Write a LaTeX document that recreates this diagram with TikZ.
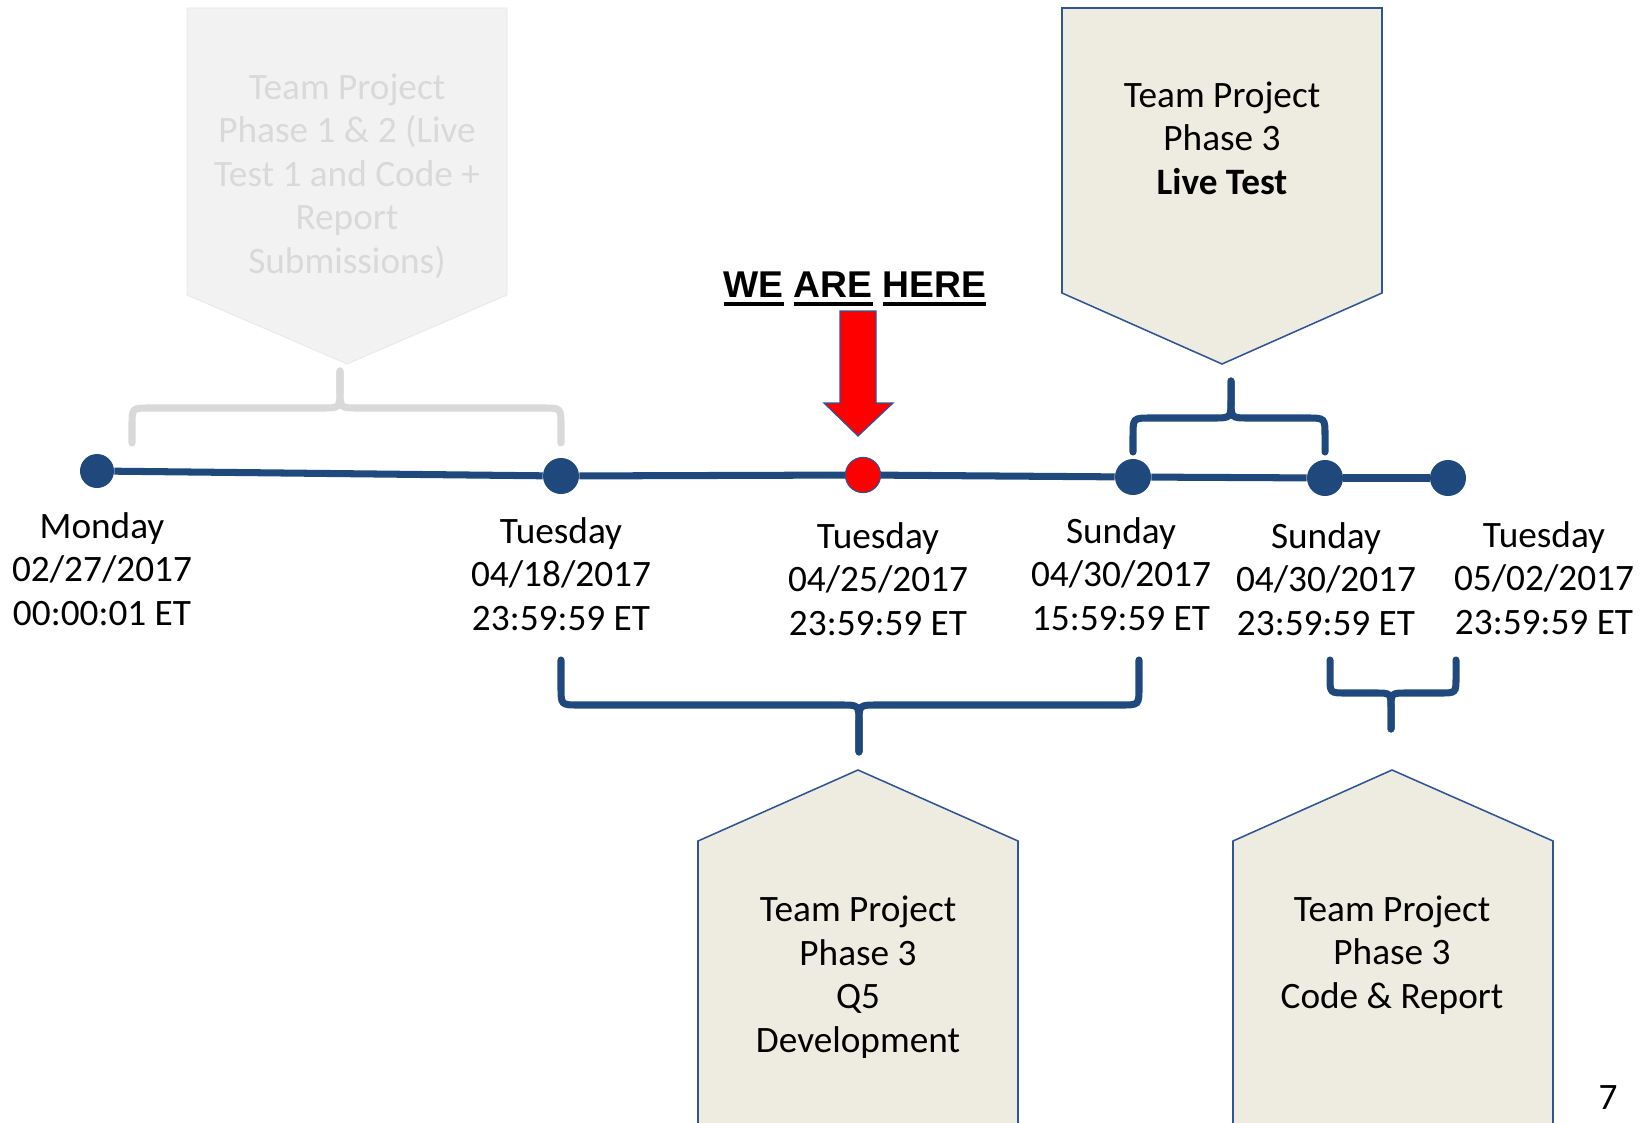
\documentclass[tikz,border=0pt]{standalone}
\usepackage{fontspec}
\setmainfont{Carlito}
\newfontfamily\arialfont{Liberation Sans}
\definecolor{tlblue}{HTML}{1F497D}
\definecolor{edgeblue}{HTML}{2F5597}
\definecolor{tanfill}{HTML}{EEECE1}
\definecolor{oldfill}{HTML}{F2F2F2}
\definecolor{oldgray}{HTML}{D9D9D9}
\newcommand{\heavyul}[1]{\setbox0=\hbox{#1}\rlap{\rule[-6.5pt]{\wd0}{2.6pt}}\box0\relax}
\tikzset{
      tline/.style={
          draw=tlblue,
          line width=5pt
      },
      tdot/.style={
          circle,
          fill=tlblue,
          inner sep=0pt,
          minimum size=0.9cm
      },
      nowdot/.style={
          circle,
          fill=red,
          draw=edgeblue,
          thick,
          inner sep=0pt,
          minimum size=0.88cm
      },
      datelbl/.style={
          align=center,
          inner sep=0pt,
          font=\fontsize{26.5}{31}\selectfont
      },
      phasebox/.style={
          fill=tanfill,
          draw=edgeblue,
          line width=1.1pt,
          line join=miter
      },
      oldbox/.style={
          fill=oldfill,
          draw=oldfill!96!black,
          line width=0.6pt
      },
      bracel/.style={
          draw=tlblue,
          line width=5pt,
          line cap=round
      },
      oldbrace/.style={
          draw=oldgray,
          line width=5pt,
          line cap=round
      }
  }

\begin{document}
\begin{tikzpicture}[x=0.025cm, y=-0.025cm]
    \useasboundingbox (0,0) rectangle (1650,1123);

    %% greyed out phase 1 & 2
    \draw[oldbox] (187,8) -- (507,8) -- (507,295) -- (347,364) -- (187,295) -- cycle;
    \node [datelbl, text=oldgray] (p12) at (347,176) {Team Project\\Phase 1 \& 2 (Live\\Test 1 and Code +\\Report\\Submissions)};
    \draw[oldbrace] (132,443) -- (132,426) .. controls (132,408) .. (150,408) -- (322,408) .. controls (340,408) .. (340,390) -- (340,371);
    \draw[oldbrace] (561,443) -- (561,426) .. controls (561,408) .. (543,408) -- (358,408) .. controls (340,408) .. (340,390) -- (340,371);

    %% live test
    \draw[phasebox] (1062,8) -- (1382,8) -- (1382,293) -- (1222,364) -- (1062,293) -- cycle;
    \node [datelbl] (p3live) at (1222,138) {Team Project\\Phase 3\\\textbf{Live Test}};
    \draw[bracel] (1133,452) -- (1133,436) .. controls (1133,418) .. (1151,418) -- (1213,418) .. controls (1231,418) .. (1231,400) -- (1231,381);
    \draw[bracel] (1325,452) -- (1325,436) .. controls (1325,418) .. (1307,418) -- (1249,418) .. controls (1231,418) .. (1231,400) -- (1231,381);

    %% we are here
    \node [inner sep=0pt, anchor=base, font=\arialfont\bfseries\fontsize{26.5}{31}\selectfont] (here) at (855,297) {\heavyul{WE} \heavyul{ARE} \heavyul{HERE}};
    \draw[fill=red, draw=edgeblue, line width=0.9pt] (840,311) -- (876,311) -- (876,403) -- (893,403) -- (858,436) -- (824,403) -- (840,403) -- cycle;

    %% timeline
    \node [tdot, minimum size=0.85cm] (d1) at (97,471) {};
    \node [tdot] (d2) at (561,476) {};
    \node [nowdot] (d3) at (863,475) {};
    \node [tdot] (d4) at (1133,477) {};
    \node [tdot] (d5) at (1325,478) {};
    \node [tdot] (d6) at (1448,478) {};

    \draw[tline] (d1) -- (d2);
    \draw[tline] (d2) -- (d3);
    \draw[tline] (d3) -- (d4);
    \draw[tline] (d4) -- (d5);
    \draw[tline] (d5) -- (d6);

    \node [datelbl] (t1) at (102,569) {Monday\\02/27/2017\\00:00:01 ET};
    \node [datelbl] (t2) at (561,574) {Tuesday\\04/18/2017\\23:59:59 ET};
    \node [datelbl] (t3) at (878,579) {Tuesday\\04/25/2017\\23:59:59 ET};
    \node [datelbl] (t4) at (1121,574) {Sunday\\04/30/2017\\15:59:59 ET};
    \node [datelbl] (t5) at (1326,579) {Sunday\\04/30/2017\\23:59:59 ET};
    \node [datelbl] (t6) at (1544,578) {Tuesday\\05/02/2017\\23:59:59 ET};

    %% q5 development
    \draw[bracel] (561,660) -- (561,687) .. controls (561,705) .. (579,705) -- (841,705) .. controls (859,705) .. (859,723) -- (859,752);
    \draw[bracel] (1139,660) -- (1139,687) .. controls (1139,705) .. (1121,705) -- (877,705) .. controls (859,705) .. (859,723) -- (859,752);
    \draw[phasebox] (698,1126) -- (698,841) -- (858,770) -- (1018,841) -- (1018,1126);
    \node [datelbl] (p3dev) at (858,977) {Team Project\\Phase 3\\Q5\\Development};

    %% code and report
    \draw[bracel] (1330,660) -- (1330,677) .. controls (1330,693) .. (1346,693) -- (1375,693) .. controls (1391,693) .. (1391,709) -- (1391,729);
    \draw[bracel] (1456,660) -- (1456,677) .. controls (1456,693) .. (1440,693) -- (1407,693) .. controls (1391,693) .. (1391,709) -- (1391,729);
    \draw[phasebox] (1233,1126) -- (1233,841) -- (1392,770) -- (1553,841) -- (1553,1126);
    \node [datelbl] (p3code) at (1392,955) {Team Project\\Phase 3\\Code \& Report};

    \node [datelbl] (pgno) at (1608,1098) {7};
\end{tikzpicture}
\end{document}
